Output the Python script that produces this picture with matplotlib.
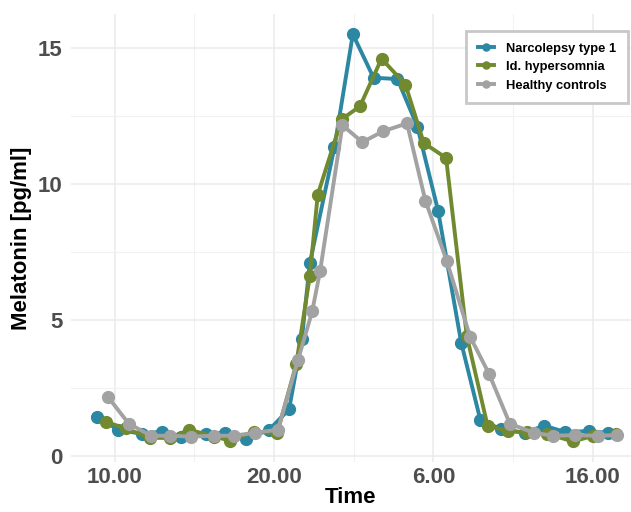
import matplotlib
matplotlib.use('Agg')
import matplotlib.pyplot as plt
from matplotlib.ticker import MultipleLocator
import numpy as np

plt.rcParams['font.family'] = ['Liberation Sans', 'DejaVu Sans']

# time in hours since midnight of day 1 (30 = 6.00 next day)
nt1_time = [8.9, 10.25, 11.7, 12.95, 14.2, 15.75, 16.95, 18.25, 19.7, 20.95, 21.75, 22.25,
            23.8, 24.95, 26.25, 27.75, 29.0, 30.3, 31.75, 32.95, 34.25, 35.75, 36.95, 38.25,
            39.75, 40.95]
nt1_mel = [1.42, 0.95, 0.8, 0.88, 0.69, 0.8, 0.84, 0.62, 0.95, 1.7, 4.27, 7.07,
           11.35, 15.5, 13.9, 13.85, 12.1, 9.0, 4.15, 1.31, 0.97, 0.84, 1.1, 0.87,
           0.9, 0.84]

ih_time = [9.45, 10.7, 12.2, 13.45, 14.7, 16.25, 17.25, 18.75, 20.2, 21.4, 22.25, 22.75,
           24.25, 25.4, 26.75, 28.25, 29.4, 30.8, 32.1, 33.4, 34.7, 35.9, 37.15, 38.75,
           40.0, 41.45]
ih_mel = [1.24, 1.0, 0.65, 0.65, 0.95, 0.7, 0.55, 0.88, 0.82, 3.36, 6.6, 9.6,
          12.37, 12.85, 14.6, 13.65, 11.5, 10.95, 4.4, 1.1, 0.9, 0.85, 0.8, 0.52,
          0.72, 0.78]

hc_time = [9.6, 10.9, 12.3, 13.45, 14.8, 16.25, 17.5, 18.8, 20.25, 21.5, 22.4, 22.9,
           24.3, 25.55, 26.85, 28.35, 29.5, 30.85, 32.3, 33.5, 34.8, 36.3, 37.5, 38.9,
           40.3, 41.5]
hc_mel = [2.15, 1.17, 0.73, 0.73, 0.7, 0.73, 0.73, 0.84, 0.95, 3.5, 5.3, 6.8,
          12.15, 11.53, 11.93, 12.22, 9.38, 7.15, 4.38, 3.0, 1.17, 0.84, 0.73, 0.75,
          0.73, 0.75]

tick_pos = [10, 20, 30, 40]
tick_labels = ['10.00', '20.00', '6.00', '16.00']

teal = '#2B87A2'
olive = '#718A2F'
grey = '#A2A2A2'

fig = plt.figure(figsize=(6.31, 5.12), dpi=100)
ax = fig.add_axes([0.112, 0.098, 0.888, 0.875])

ax.plot(nt1_time, nt1_mel, '-o', color=teal, lw=2.8, ms=8.5, label='Narcolepsy type 1')
ax.plot(ih_time, ih_mel, '-o', color=olive, lw=2.8, ms=8.5, label='Id. hypersomnia')
ax.plot(hc_time, hc_mel, '-o', color=grey, lw=2.8, ms=8.5, label='Healthy controls')

ax.set_xlim(7.25, 42.4)
ax.set_ylim(-0.23, 16.25)
ax.set_xticks(tick_pos)
ax.set_xticklabels(tick_labels)
ax.xaxis.set_minor_locator(MultipleLocator(5))
ax.set_yticks([0, 5, 10, 15])
ax.yaxis.set_minor_locator(MultipleLocator(2.5))

ax.grid(which='major', color='#EBEBEB', lw=1.1)
ax.grid(which='minor', color='#F2F2F2', lw=0.8)
ax.set_axisbelow(True)
for s in ax.spines.values():
    s.set_visible(False)
ax.tick_params(which='both', length=0)
ax.tick_params(axis='y', labelsize=16, labelcolor='#4D4D4D', pad=6)
ax.tick_params(axis='x', labelsize=16, labelcolor='#4D4D4D', pad=4)
for lab in ax.get_xticklabels() + ax.get_yticklabels():
    lab.set_fontweight('bold')

ax.set_xlabel('Time', fontsize=16, fontweight='bold', labelpad=-1)
ax.set_ylabel('Melatonin [pg/ml]', fontsize=16, fontweight='bold', labelpad=4)

leg = ax.legend(loc='upper right', bbox_to_anchor=(0.995, 0.962), frameon=True,
                fancybox=False, edgecolor='#C8C8C8', framealpha=1, borderaxespad=0,
                prop={'weight': 'bold', 'size': 9.3}, handlelength=1.2,
                markerscale=0.6, borderpad=0.9, labelspacing=0.5, handletextpad=1.0)
leg.get_frame().set_linewidth(2)

fig.savefig('out.png', dpi=100)
